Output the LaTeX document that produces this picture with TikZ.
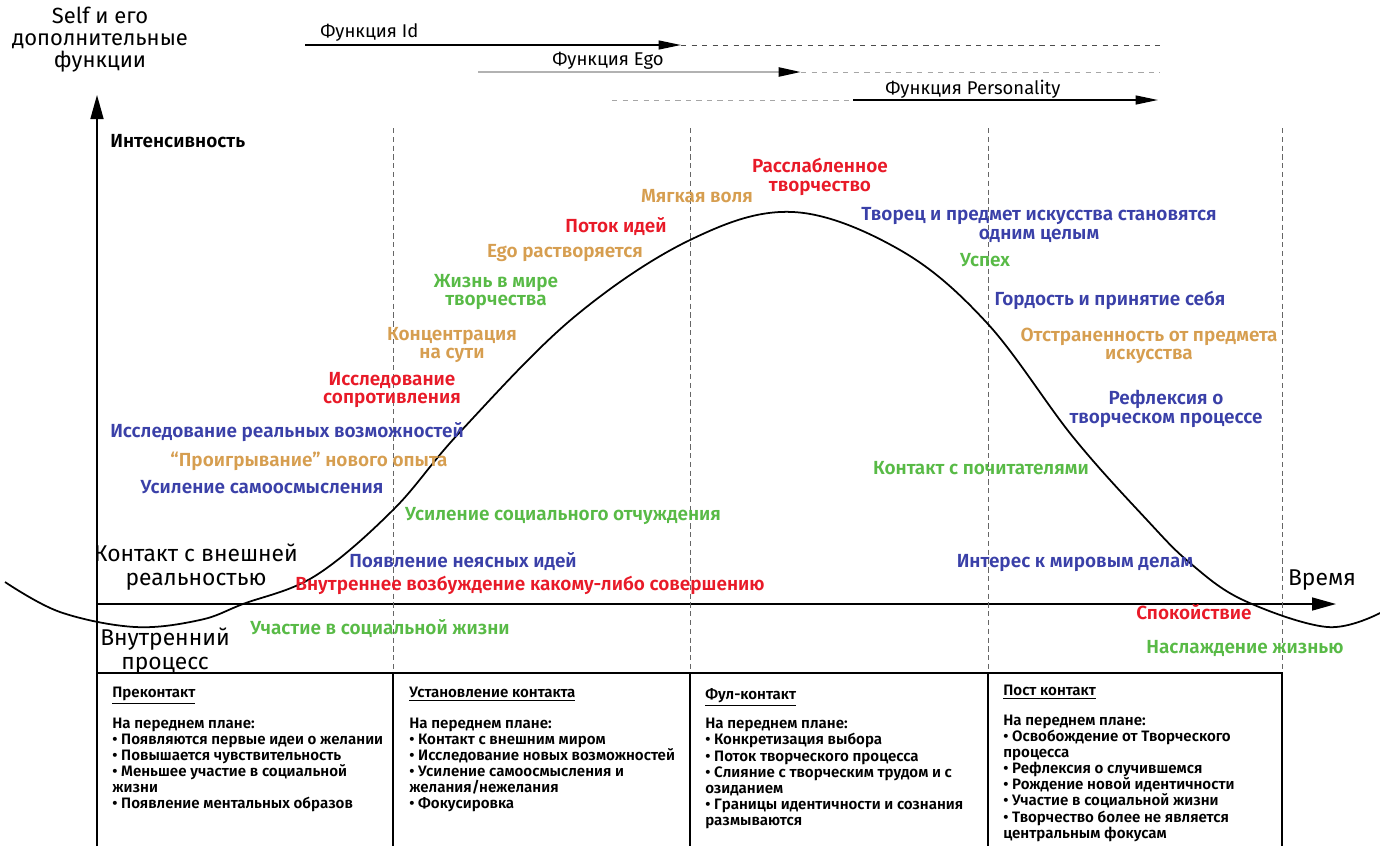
\documentclass[tikz,border=0pt]{standalone}
\usepackage{fontspec}
\setmainfont{Fira Sans}
\newfontfamily\semib{Fira Sans SemiBold}
\usetikzlibrary{arrows.meta}

\definecolor{lblue}{RGB}{58,64,168}
\definecolor{lred}{RGB}{232,26,40}
\definecolor{lorange}{RGB}{214,158,80}
\definecolor{lgreen}{RGB}{88,186,70}

\newcommand\tablefont{\semib\fontsize{8.6}{9.2}\selectfont\lineskiplimit=-20pt\relax}

\tikzset{
  lbl/.style={font=\semib\fontsize{10.8}{10.4}\selectfont, align=center, inner sep=0pt},
  axlbl/.style={font=\fontsize{13}{14}\selectfont, align=center, inner sep=0pt},
  funlbl/.style={font=\fontsize{10.5}{12}\selectfont, anchor=west, inner sep=0pt},
  boxtxt/.style={font=\tablefont, align=left, anchor=north west, inner sep=0pt},
  axis/.style={line width=0.9pt, -{Triangle[length=0.48cm,width=0.26cm]}},
  funarrow/.style={line width=0.8pt, -{Triangle[length=0.45cm,width=0.18cm,color=black]}},
  phase/.style={densely dashed, gray!80!black, line width=0.5pt},
  boxline/.style={line width=0.8pt},
}

\begin{document}
\begin{tikzpicture}[x=0.02cm,y=-0.02cm]
\useasboundingbox (0,0) rectangle (1380,846);

% axes
\coordinate (ybase) at (97,673);
\coordinate (ytop) at (97,95);
\coordinate (origin) at (97,604);
\coordinate (xend) at (1336,604);
\draw[axis] (ybase) -- (ytop);
\draw[axis] (origin) -- (xend);

% phase borders
\foreach \x/\n in {393/a,690/b,988/c,1282/d} {
  \coordinate (top\n) at (\x,128);
  \coordinate (bot\n) at (\x,673);
  \draw[phase] (top\n) -- (bot\n);
}

% bottom table
\draw[boxline] (97,846) -- (ybase) -- (botd) -- (1282,846);
\foreach \x in {393,690,988}
  \draw[boxline] (\x,673) -- (\x,846);

% functions
\coordinate (id0) at (305,45); \coordinate (id1) at (681,45); \coordinate (id2) at (1160,45);
\coordinate (ego0) at (478,72); \coordinate (ego1) at (801,72); \coordinate (ego2) at (1160,72);
\coordinate (per0) at (612,100); \coordinate (per1) at (853,100); \coordinate (per2) at (1158,100);
\draw[funarrow] (id0) -- (id1);
\draw[dashed,gray!60!black] (id1) -- (id2);
\draw[funarrow,gray!60,line width=1.4pt] (ego0) -- (ego1);
\draw[dashed,gray!70] (ego1) -- (ego2);
\draw[dashed,gray!70] (per0) -- (per1);
\draw[funarrow] (per1) -- (per2);
\node[funlbl] (fid) at (320,33) {Функция Id};
\node[funlbl] (fego) at (552,61) {Функция Ego};
\node[funlbl] (fper) at (885,89) {Функция Personality};

% curve
\draw[line width=1pt] plot[smooth,tension=0.6] coordinates {
  (5,582) (60,612) (135,627) (200,620) (243,604) (315,576) (393,510)
  (460,432) (573,318) (690,240) (793,212) (900,250) (987,323)
  (1073,437) (1147,520) (1190,563) (1243,600) (1327,627) (1380,613)};

% axis labels
\node[axlbl,font=\fontsize{12.5}{12.5}\selectfont] (self) at (100,40) {Self и его\\дополнительные\\функции};
\node[lbl,anchor=west] (intens) at (110,141) {Интенсивность};
\node[axlbl] (contact) at (196,567) {Контакт с внешней\\реальностью};
\node[axlbl] (inner) at (165,651) {Внутренний\\процесс};
\node[axlbl] (time) at (1322,580) {Время};

% rising part
\node[lbl,text=lred] (relax) at (820,177) {Расслабленное\\творчество};
\node[lbl,text=lorange] (soft) at (697,196) {Мягкая воля};
\node[lbl,text=lred] (flow) at (616,226) {Поток идей};
\node[lbl,text=lorange] (egodis) at (565,253) {Ego растворяется};
\node[lbl,text=lgreen] (life) at (496,292) {Жизнь в мире\\творчества};
\node[lbl,text=lorange] (conc) at (452,345) {Концентрация\\на сути};
\node[lbl,text=lred] (resist) at (392,390) {Исследование\\сопротивления};
\node[lbl,text=lblue] (real) at (287,432) {Исследование реальных возможностей};
\node[lbl,text=lorange] (play) at (309,461) {“Проигрывание” нового опыта};
\node[lbl,text=lblue] (selfm) at (262,487) {Усиление самоосмысления};
\node[lbl,text=lgreen] (alien) at (563,516) {Усиление социального отчуждения};
\node[lbl,text=lblue] (vague) at (463,561) {Появление неясных идей};
\node[lbl,text=lred] (excit) at (530,585) {Внутреннее возбуждение какому-либо совершению};
\node[lbl,text=lgreen] (social) at (380,628) {Участие в социальной жизни};

% falling part
\node[lbl,text=lblue] (whole) at (1039,225) {Творец и предмет искусства становятся\\одним целым};
\node[lbl,text=lgreen] (succ) at (985,260) {Успех};
\node[lbl,text=lblue] (pride) at (1110,300) {Гордость и принятие себя};
\node[lbl,text=lorange] (detach) at (1149,346) {Отстраненность от предмета\\искусства};
\node[lbl,text=lblue] (refl) at (1166,409) {Рефлексия о\\творческом процессе};
\node[lbl,text=lgreen] (fans) at (981,468) {Контакт с почитателями};
\node[lbl,text=lblue] (world) at (1075,563) {Интерес к мировым делам};
\node[lbl,text=lred] (calm) at (1194,612) {Спокойствие};
\node[lbl,text=lgreen] (joy) at (1245,648) {Наслаждение жизнью};

% table texts
\node[boxtxt] (pre) at (112,687) {\underline{Преконтакт}\\[8pt]
На переднем плане:\\
• Появляются первые идеи о желании\\
• Повышается чувствительность\\
• Меньшее участие в социальной\\
жизни\\
• Появление ментальных образов};
\node[boxtxt] (est) at (409,687) {\underline{Установление контакта}\\[8pt]
На переднем плане:\\
• Контакт с внешним миром\\
• Исследование новых возможностей\\
• Усиление самоосмысления и\\
желания/нежелания\\
• Фокусировка};
\node[boxtxt] (full) at (705,688) {\underline{Фул-контакт}\\[7.5pt]
На переднем плане:\\
• Конкретизация выбора\\
• Поток творческого процесса\\
• Слияние с творческим трудом и с\\
озиданием\\
• Границы идентичности и сознания\\
размываются};
\node[boxtxt] (post) at (1003,685) {\underline{Пост контакт}\\[7.5pt]
На переднем плане:\\
• Освобождение от Творческого\\
процесса\\
• Рефлексия о случившемся\\
• Рождение новой идентичности\\
• Участие в социальной жизни\\
• Творчество более не является\\
центральным фокусам};
\end{tikzpicture}
\end{document}
